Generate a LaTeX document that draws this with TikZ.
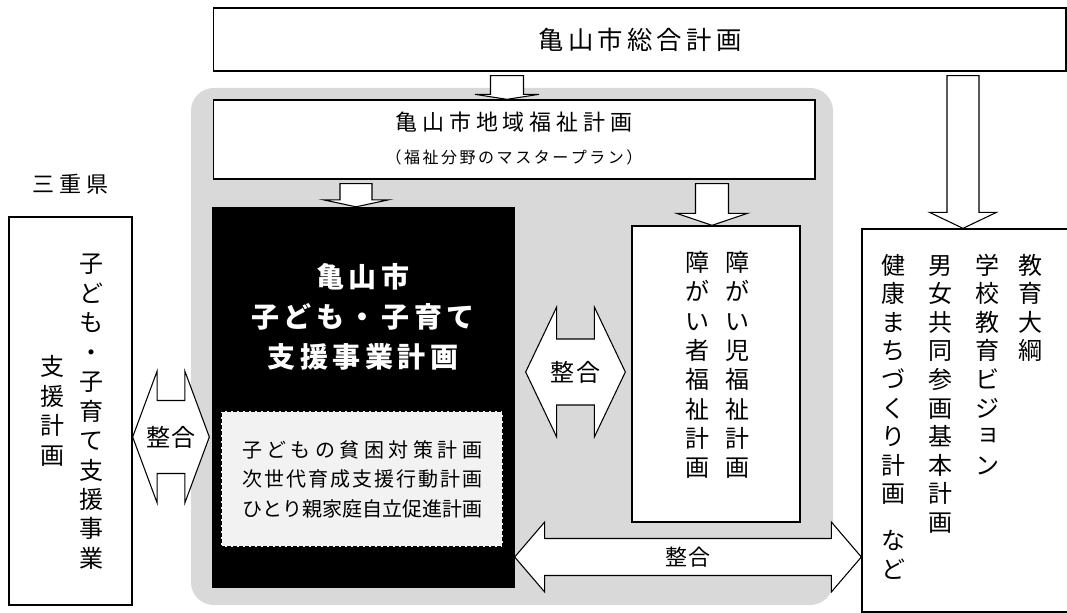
\documentclass[tikz,border=0pt]{standalone}
\usepackage{fontspec}
\setmainfont{Noto Sans CJK JP}
\usetikzlibrary{calc,fit,positioning}
\definecolor{areagray}{HTML}{D9D9D9}
\definecolor{subgray}{HTML}{F2F2F2}

\newlength\chpitch
\def\vend{vend}
\def\vgap{vgap}
\def\sm{\raisebox{.15em}{\kern.15em ョ}}
% one glyph per line
\def\vcharsA#1{\ifx#1\vend\else\ifx#1\vgap\vskip.65\chpitch\else\hbox to1.1em{\hss\vrule height.88em depth.12em width0pt#1\hss}\fi\expandafter\vcharsA\fi}
\newcommand\vcol[2]{\chpitch=#1\relax\vbox{\baselineskip=\chpitch\lineskiplimit=-\maxdimen\vcharsA#2\vend}}
\def\hcharsA#1{\ifx#1\vend\else\hbox to\chpitch{\hss#1\hss}\expandafter\hcharsA\fi}
\newcommand\hrow[2]{\chpitch=#1\relax\hbox{\vrule height.88em depth.12em width0pt\hcharsA#2\vend}}
\def\spreadA#1{\ifx#1\vend\else\hfil#1\expandafter\spreadA\fi}
\def\spreadB#1{#1\spreadA}
\newcommand\spread[2]{\hbox to#1{\vrule height.88em depth.12em width0pt\spreadB#2\vend}}
% from, to, x, shaft half, head half, head length
\newcommand\dnarrow[6]{\draw[bigarrow] let \p1=(#1.south), \p2=(#2.north), \p3=(#3,0) in
  ({\x3-#4*0.75pt},{\y1-3pt}) -- ({\x3-#4*0.75pt},{\y2+#6*0.75pt}) -- ({\x3-#5*0.75pt},{\y2+#6*0.75pt})
  -- (\x3,\y2) -- ({\x3+#5*0.75pt},{\y2+#6*0.75pt}) -- ({\x3+#4*0.75pt},{\y2+#6*0.75pt})
  -- ({\x3+#4*0.75pt},{\y1-3pt}) -- cycle;}
% from, to, y, shaft half, head half, head length, gap left, gap right
\newcommand\lrarrow[8]{\draw[bigarrow] let \p1=($(#1.east)+(#7,0)$), \p2=($(#2.west)-(#8,0)$), \p3=(0,#3) in
  (\x1,\y3) -- ({\x1+#6*0.75pt},{\y3+#5*0.75pt}) -- ({\x1+#6*0.75pt},{\y3+#4*0.75pt})
  -- ({\x2-#6*0.75pt},{\y3+#4*0.75pt}) -- ({\x2-#6*0.75pt},{\y3+#5*0.75pt}) -- (\x2,\y3)
  -- ({\x2-#6*0.75pt},{\y3-#5*0.75pt}) -- ({\x2-#6*0.75pt},{\y3-#4*0.75pt})
  -- ({\x1+#6*0.75pt},{\y3-#4*0.75pt}) -- ({\x1+#6*0.75pt},{\y3-#5*0.75pt}) -- cycle;}

\begin{document}
\begin{tikzpicture}[x=0.75pt,y=-0.75pt,inner sep=0pt,
    box/.style={draw,line width=1pt,fill=white},
    bigarrow/.style={draw,line width=0.8pt,fill=white},
    f12/.style={font=\fontsize{12}{14}\selectfont},
    f15/.style={font=\fontsize{15}{22.1}\selectfont},
    f16/.style={font=\fontsize{16.5}{20}\selectfont},
    f18/.style={font=\fontsize{18}{22}\selectfont},
    f19/.style={font=\fontsize{19}{23}\selectfont},
    f21/.style={font=\fontsize{21}{30}\selectfont\bfseries}]
  \useasboundingbox (0,0) rectangle (1067,613);
  \node (2) [fit={(191,88) (833,605)}, fill=areagray, rounded corners=17pt] {};
  \node (1) [box, fit={(213.5,8) (1066,71)}] {};
  \node (3) [box, fit={(213.5,100) (815,179)}] {};
  \node (4) [box, fit={(9,217) (132,605)}] {};
  \node (6) [fit={(212.5,207.5) (514,587)}, draw, line width=1pt, fill=black] {};
  \node (7) [fit={(221,411) (503,547)}, draw, line width=1.1pt, dash pattern=on 3pt off 1.5pt, fill=subgray] {};
  \node (8) [box, fit={(632,226) (800,522)}] {};
  \node (9) [box, fit={(862,229) (1080,612)}] {};

  \node (11) [f19] at (640,40) {\hrow{22.2pt}{亀山市総合計画}};
  \node (12) [f16] at (514,122) {\hrow{20.2pt}{亀山市地域福祉計画}};
  \node (13) [f12] at (514,157) {\hrow{13.9pt}{（福祉分野のマスタープラン）}};
  \node (5) [f16, above=15.5pt of 4] {\hrow{20.6pt}{三重県}};
  \node (14) [f18] at (91,411) {\vcol{22.1pt}{子ども・子育て支援事業}};
  \node (15) [f18] at (52,411) {\vcol{22.1pt}{支援計画}};
  \node (16) [f21, text=white, align=center] at (363,317)
    {\hrow{24.4pt}{亀山市}\\\hrow{24.4pt}{子ども・子育て}\\\hrow{24.4pt}{支援事業計画}};
  \node (17) [f15, align=center] at (7.center)
    {\spread{180pt}{子どもの貧困対策計画}\\\spread{180pt}{次世代育成支援行動計画}\\\spread{180pt}{ひとり親家庭自立促進計画}};
  \node (18) [f18, anchor=north] at (737,250) {\vcol{22pt}{障がい児福祉計画}};
  \node (19) [f18, anchor=north] at (697,250) {\vcol{22pt}{障がい者福祉計画}};
  \node (20) [f18, anchor=north] at (1030,253) {\vcol{21.4pt}{教育大綱}};
  \node (21) [f18, anchor=north] at (987,253) {\vcol{21.4pt}{学校教育ビジ\sm ン}};
  \node (22) [f18, anchor=north] at (940,253) {\vcol{21.4pt}{男女共同参画基本計画}};
  \node (23) [f18, anchor=north] at (893,253) {\vcol{21.4pt}{健康まちづくり計画\vgap など}};

  \dnarrow{1}{3}{507}{16.5}{32}{5}
  \dnarrow{3}{6}{356}{16}{32.5}{7}
  \dnarrow{3}{8}{712}{16.5}{35.5}{12}
  \dnarrow{1}{9}{963}{16}{33.5}{16}
  \lrarrow{4}{6}{437}{36.5}{66}{24.5}{0}{2.5}
  \lrarrow{6}{8}{372}{33}{65}{31}{11}{6}
  \lrarrow{6}{9}{557}{18.5}{35}{30}{0}{0}

  \node (24) [f18] at (171,437) {\hrow{19.5pt}{整合}};
  \node (25) [f18] at (575.5,372) {\hrow{19.5pt}{整合}};
  \node (26) [f16] at (688,557) {\hrow{17.25pt}{整合}};
\end{tikzpicture}
\end{document}
